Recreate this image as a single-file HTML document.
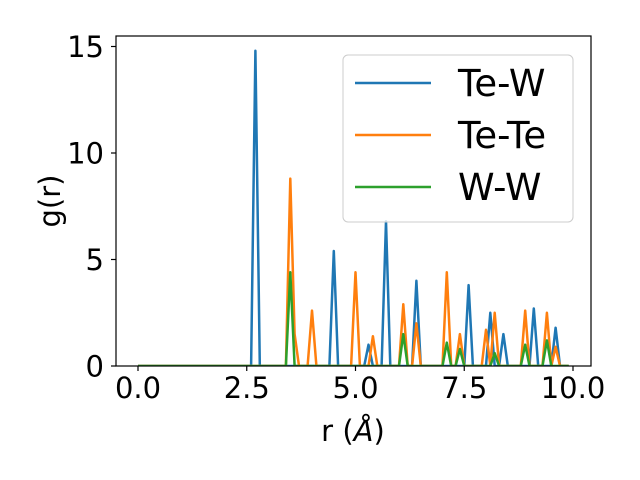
<!DOCTYPE html>
<html><head><meta charset="utf-8"><style>body{margin:0;background:#fff}svg{display:block;font-family:"DejaVu Sans","Liberation Sans",sans-serif}</style></head>
<body>
<svg id="chart" width="640" height="480" viewBox="0 0 640 480"></svg>
<script>
const rPeaksTeW=[2.7,4.5,5.3,5.7,6.4,7.6,8.1,8.4,9.1,9.6];
const gPeaksTeW=[14.8,5.4,1.0,6.8,4.0,3.8,2.5,1.5,2.7,1.8];
const rPeaksTeTe=[3.5,3.6,4.0,5.0,5.4,6.1,6.4,7.1,7.4,8.0,8.2,8.9,9.4,9.6];
const gPeaksTeTe=[8.8,1.5,2.6,4.4,1.4,2.9,2.0,4.4,1.5,1.7,2.5,2.6,2.5,0.9];
const rPeaksWW=[3.5,6.1,7.1,7.4,8.2,8.9,9.4];
const gPeaksWW=[4.4,1.5,1.1,0.8,0.6,1.0,1.2];
const xTicks=["0.0","2.5","5.0","7.5","10.0"];
const xTickVals=[0,2.5,5,7.5,10];
const yTicks=["0","5","10","15"];
const yTickVals=[0,5,10,15];
const seriesNames=["Te-W","Te-Te","W-W"];
const colors=["#1f77b4","#ff7f0e","#2ca02c"];

const NS="http://www.w3.org/2000/svg";
const svg=document.getElementById('chart');
const X=r=>138+r*43.5;
const Y=g=>366-g*21.3;
function mk(t,a,p){const e=document.createElementNS(NS,t);for(const k in a)e.setAttribute(k,a[k]);(p||svg).appendChild(e);return e;}
function series(rs,gs){const n=100;const v=new Array(n).fill(0);rs.forEach((r,i)=>{v[Math.round(r*10)]=gs[i];});return v;}
const all=[series(rPeaksTeW,gPeaksTeW),series(rPeaksTeTe,gPeaksTeTe),series(rPeaksWW,gPeaksWW)];
const clip=mk('clipPath',{id:'c'});mk('rect',{x:116,y:36,width:475,height:330},clip);
all.forEach((v,s)=>{
  const pts=v.map((g,i)=>X(i/10).toFixed(1)+','+Y(g).toFixed(1)).join(' ');
  const pl=mk('polyline',{points:pts,fill:'none',stroke:colors[s],'stroke-width':2.5,'stroke-linejoin':'round','clip-path':'url(#c)'});
  
  
});
const frame=mk('rect',{x:116,y:36,width:475,height:330,fill:'none',stroke:'#000','stroke-width':1.2});


xTickVals.forEach((t,i)=>{
  mk('line',{x1:X(t),x2:X(t),y1:366,y2:371,stroke:'#000','stroke-width':1.2});
  const tx=mk('text',{x:X(t),y:398,'font-size':29,'text-anchor':'middle'});tx.textContent=xTicks[i];
  
  
});
yTickVals.forEach((t,i)=>{
  mk('line',{x1:111,x2:116,y1:Y(t),y2:Y(t),stroke:'#000','stroke-width':1.2});
  const tx=mk('text',{x:104,y:Y(t)+10.5,'font-size':29,'text-anchor':'end'});tx.textContent=yTicks[i];
  
  
});
const xt=mk('text',{x:353,y:441,'font-size':29,'text-anchor':'middle'});xt.innerHTML='r (<tspan font-style="italic">Å</tspan>)';


const yt=mk('text',{x:0,y:0,'font-size':29,'text-anchor':'middle',transform:'translate(60,201) rotate(-90)'});yt.textContent='g(r)';


const lg=mk('g',{});


mk('rect',{x:343,y:55,width:230,height:167,rx:5,fill:'#fff','fill-opacity':0.8,stroke:'#ccc','stroke-width':1},lg);
seriesNames.forEach((n,i)=>{
  const y=83+i*52;
  mk('line',{x1:355,x2:431,y1:y,y2:y,stroke:colors[i],'stroke-width':2.5},lg);
  const t=mk('text',{x:458,y:y+13,'font-size':37},lg);t.textContent=n;
  
  
});
</script>
</body></html>
